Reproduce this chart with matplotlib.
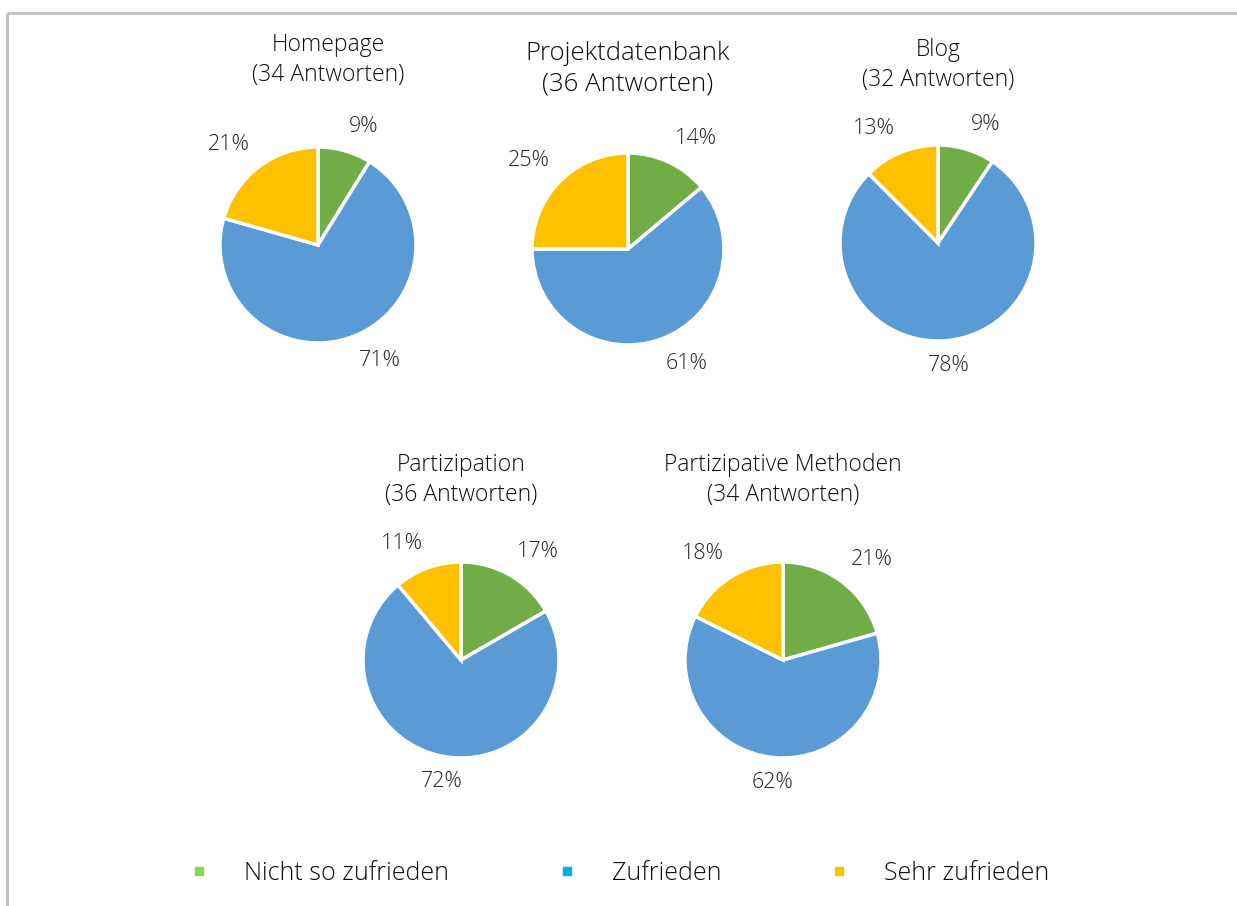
import numpy as np
import matplotlib.pyplot as plt
from matplotlib.lines import Line2D

plt.rcParams["font.family"] = ["Open Sans", "DejaVu Sans"]
plt.rcParams["font.weight"] = "light"

# answer counts per chart: nicht so zufrieden, zufrieden, sehr zufrieden
categories = ["Nicht so zufrieden", "Zufrieden", "Sehr zufrieden"]
titles = ["Homepage", "Projektdatenbank", "Blog", "Partizipation", "Partizipative Methoden"]
homepage = [3, 24, 7]
projektdatenbank = [5, 22, 9]
blog = [3, 25, 4]
partizipation = [6, 26, 4]
methoden = [7, 21, 6]
counts = [homepage, projektdatenbank, blog, partizipation, methoden]

pie_colors = ["#70AD47", "#5B9BD5", "#FFC000"]
legend_colors = ["#92D050", "#00B0F0", "#FFC000"]

# layout in pixels (figure is 1237 x 906)
W, H = 1237, 906
centers = [(318, 245), (628, 249), (938, 243), (461, 660), (783, 660)]
radii = [98, 96, 98, 98, 98]
title_y = [60, 69, 65, 480, 480]
title_size = [16.5, 18.5, 16.5, 16.5, 16.5]

fig = plt.figure(figsize=(W / 100, H / 100), dpi=100)
ax = fig.add_axes([0, 0, 1, 1])

# frame lines at top and left
ax.plot([7, W], [13, 13], color="#BFBFBF", lw=2, solid_capstyle="butt")
ax.plot([7, 7], [13, H], color="#BFBFBF", lw=2, solid_capstyle="butt")

for i, vals in enumerate(counts):
    cx, cy = centers[i]
    r = radii[i]
    total = sum(vals)
    # y axis is flipped, so start at -90 and go counterclockwise in data space
    wedges, _ = ax.pie(vals, colors=pie_colors, startangle=-90, counterclock=True,
                       center=(cx, cy), radius=r, frame=True,
                       wedgeprops=dict(edgecolor="white", linewidth=2.5))
    for w, v in zip(wedges, vals):
        mid = np.deg2rad((w.theta1 + w.theta2) / 2)
        c, s = np.cos(mid), np.sin(mid)
        lx = cx + 1.15 * r * c
        ly = cy + 1.15 * r * s
        if abs(c) < 0.2:
            ha = "center"
        else:
            ha = "left" if c > 0 else "right"
        va = "top" if s > 0 else "bottom"
        pct = int(np.floor(100 * v / total + 0.5))
        ax.text(lx, ly, f"{pct}%", ha=ha, va=va, fontsize=15.5, color="#262626")
    ax.text(cx + (10 if i == 0 else 0), title_y[i],
            f"{titles[i]}\n({total} Antworten)", ha="center", va="center",
            fontsize=title_size[i], color="#0d0d0d", linespacing=1.28)

ax.set_xlim(0, W)
ax.set_ylim(H, 0)
ax.set_aspect("auto")
ax.axis("off")

handles = [Line2D([], [], marker="s", linestyle="none", markersize=6,
                  markerfacecolor=col, markeredgecolor=col) for col in legend_colors]
ax.legend(handles, categories, loc="center", bbox_to_anchor=(618 / W, 1 - 873 / H),
          ncol=3, frameon=False, fontsize=18, handlelength=1.0,
          handletextpad=1.3, columnspacing=4.2, labelcolor="#0d0d0d")

fig.savefig("out.png", dpi=100)
